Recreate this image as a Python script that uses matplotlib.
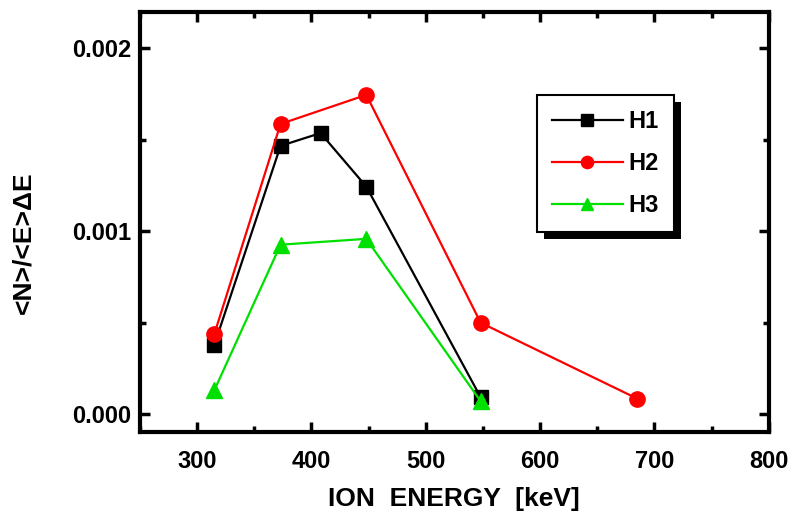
import matplotlib
matplotlib.use('Agg')
import matplotlib.pyplot as plt
from matplotlib.patches import Rectangle
from matplotlib.ticker import MultipleLocator

# data
h1_x = [315, 373, 408, 448, 548]
h1_y = [0.000376, 0.001467, 0.001537, 0.001244, 0.000091]
h2_x = [315, 373, 448, 548, 685]
h2_y = [0.000435, 0.001587, 0.001746, 0.000499, 0.000083]
h3_x = [315, 373, 448, 548]
h3_y = [0.000128, 0.000926, 0.000958, 0.000069]
y_ticks = [0.000, 0.001, 0.002]
y_tick_labels = ['0.000', '0.001', '0.002']
x_ticks = [300, 400, 500, 600, 700, 800]

plt.rcParams['font.family'] = ['Liberation Sans', 'DejaVu Sans']
plt.rcParams['font.weight'] = 'bold'

fig = plt.figure(figsize=(7.95, 5.2), dpi=100)
ax = fig.add_axes([0.176, 0.169, 0.791, 0.808])

ax.plot(h1_x, h1_y, color='black', lw=1.6, marker='s', ms=10, label='H1')
ax.plot(h2_x, h2_y, color='#ff0000', lw=1.6, marker='o', ms=11, label='H2')
ax.plot(h3_x, h3_y, color='#00e000', lw=1.6, marker='^', ms=11, label='H3')

ax.set_xlim(250, 800)
ax.set_ylim(-0.0001, 0.0022)
ax.set_xticks(x_ticks)
ax.set_yticks(y_ticks)
ax.set_yticklabels(y_tick_labels)
ax.xaxis.set_minor_locator(MultipleLocator(50))
ax.yaxis.set_minor_locator(MultipleLocator(0.0005))

for s in ax.spines.values():
    s.set_linewidth(3)
ax.tick_params(which='both', direction='in', top=True, right=True, labelsize=17)
ax.tick_params(which='major', length=7, width=2.5)
ax.tick_params(which='minor', length=4, width=2.5)
ax.tick_params(axis='x', pad=13)
ax.tick_params(axis='y', pad=6)

ax.set_xlabel('ION  ENERGY  [keV]', fontsize=19, fontweight='bold')
ax.set_ylabel('<N>/<E>\u0394E', fontsize=19, fontweight='bold')
ax.xaxis.set_label_coords(0.5, -0.13)
ax.yaxis.set_label_coords(-0.167, 0.45)

leg = ax.legend(loc='upper left', bbox_to_anchor=(0.631, 0.802), fontsize=17,
                frameon=True, fancybox=False, edgecolor='black', framealpha=1,
                handlelength=3.0, handletextpad=0.25, labelspacing=0.8,
                borderpad=0.64, borderaxespad=0, markerscale=0.8)
leg.get_frame().set_linewidth(1.5)
leg.set_zorder(5)

# black drop shadow behind the legend box
fig.canvas.draw()
bb = leg.get_window_extent()
ax.add_artist(Rectangle((bb.x0 + 7, bb.y0 - 7), bb.width, bb.height, transform=None,
                        facecolor='black', edgecolor='none', zorder=4))

fig.savefig('out.png', dpi=100)
